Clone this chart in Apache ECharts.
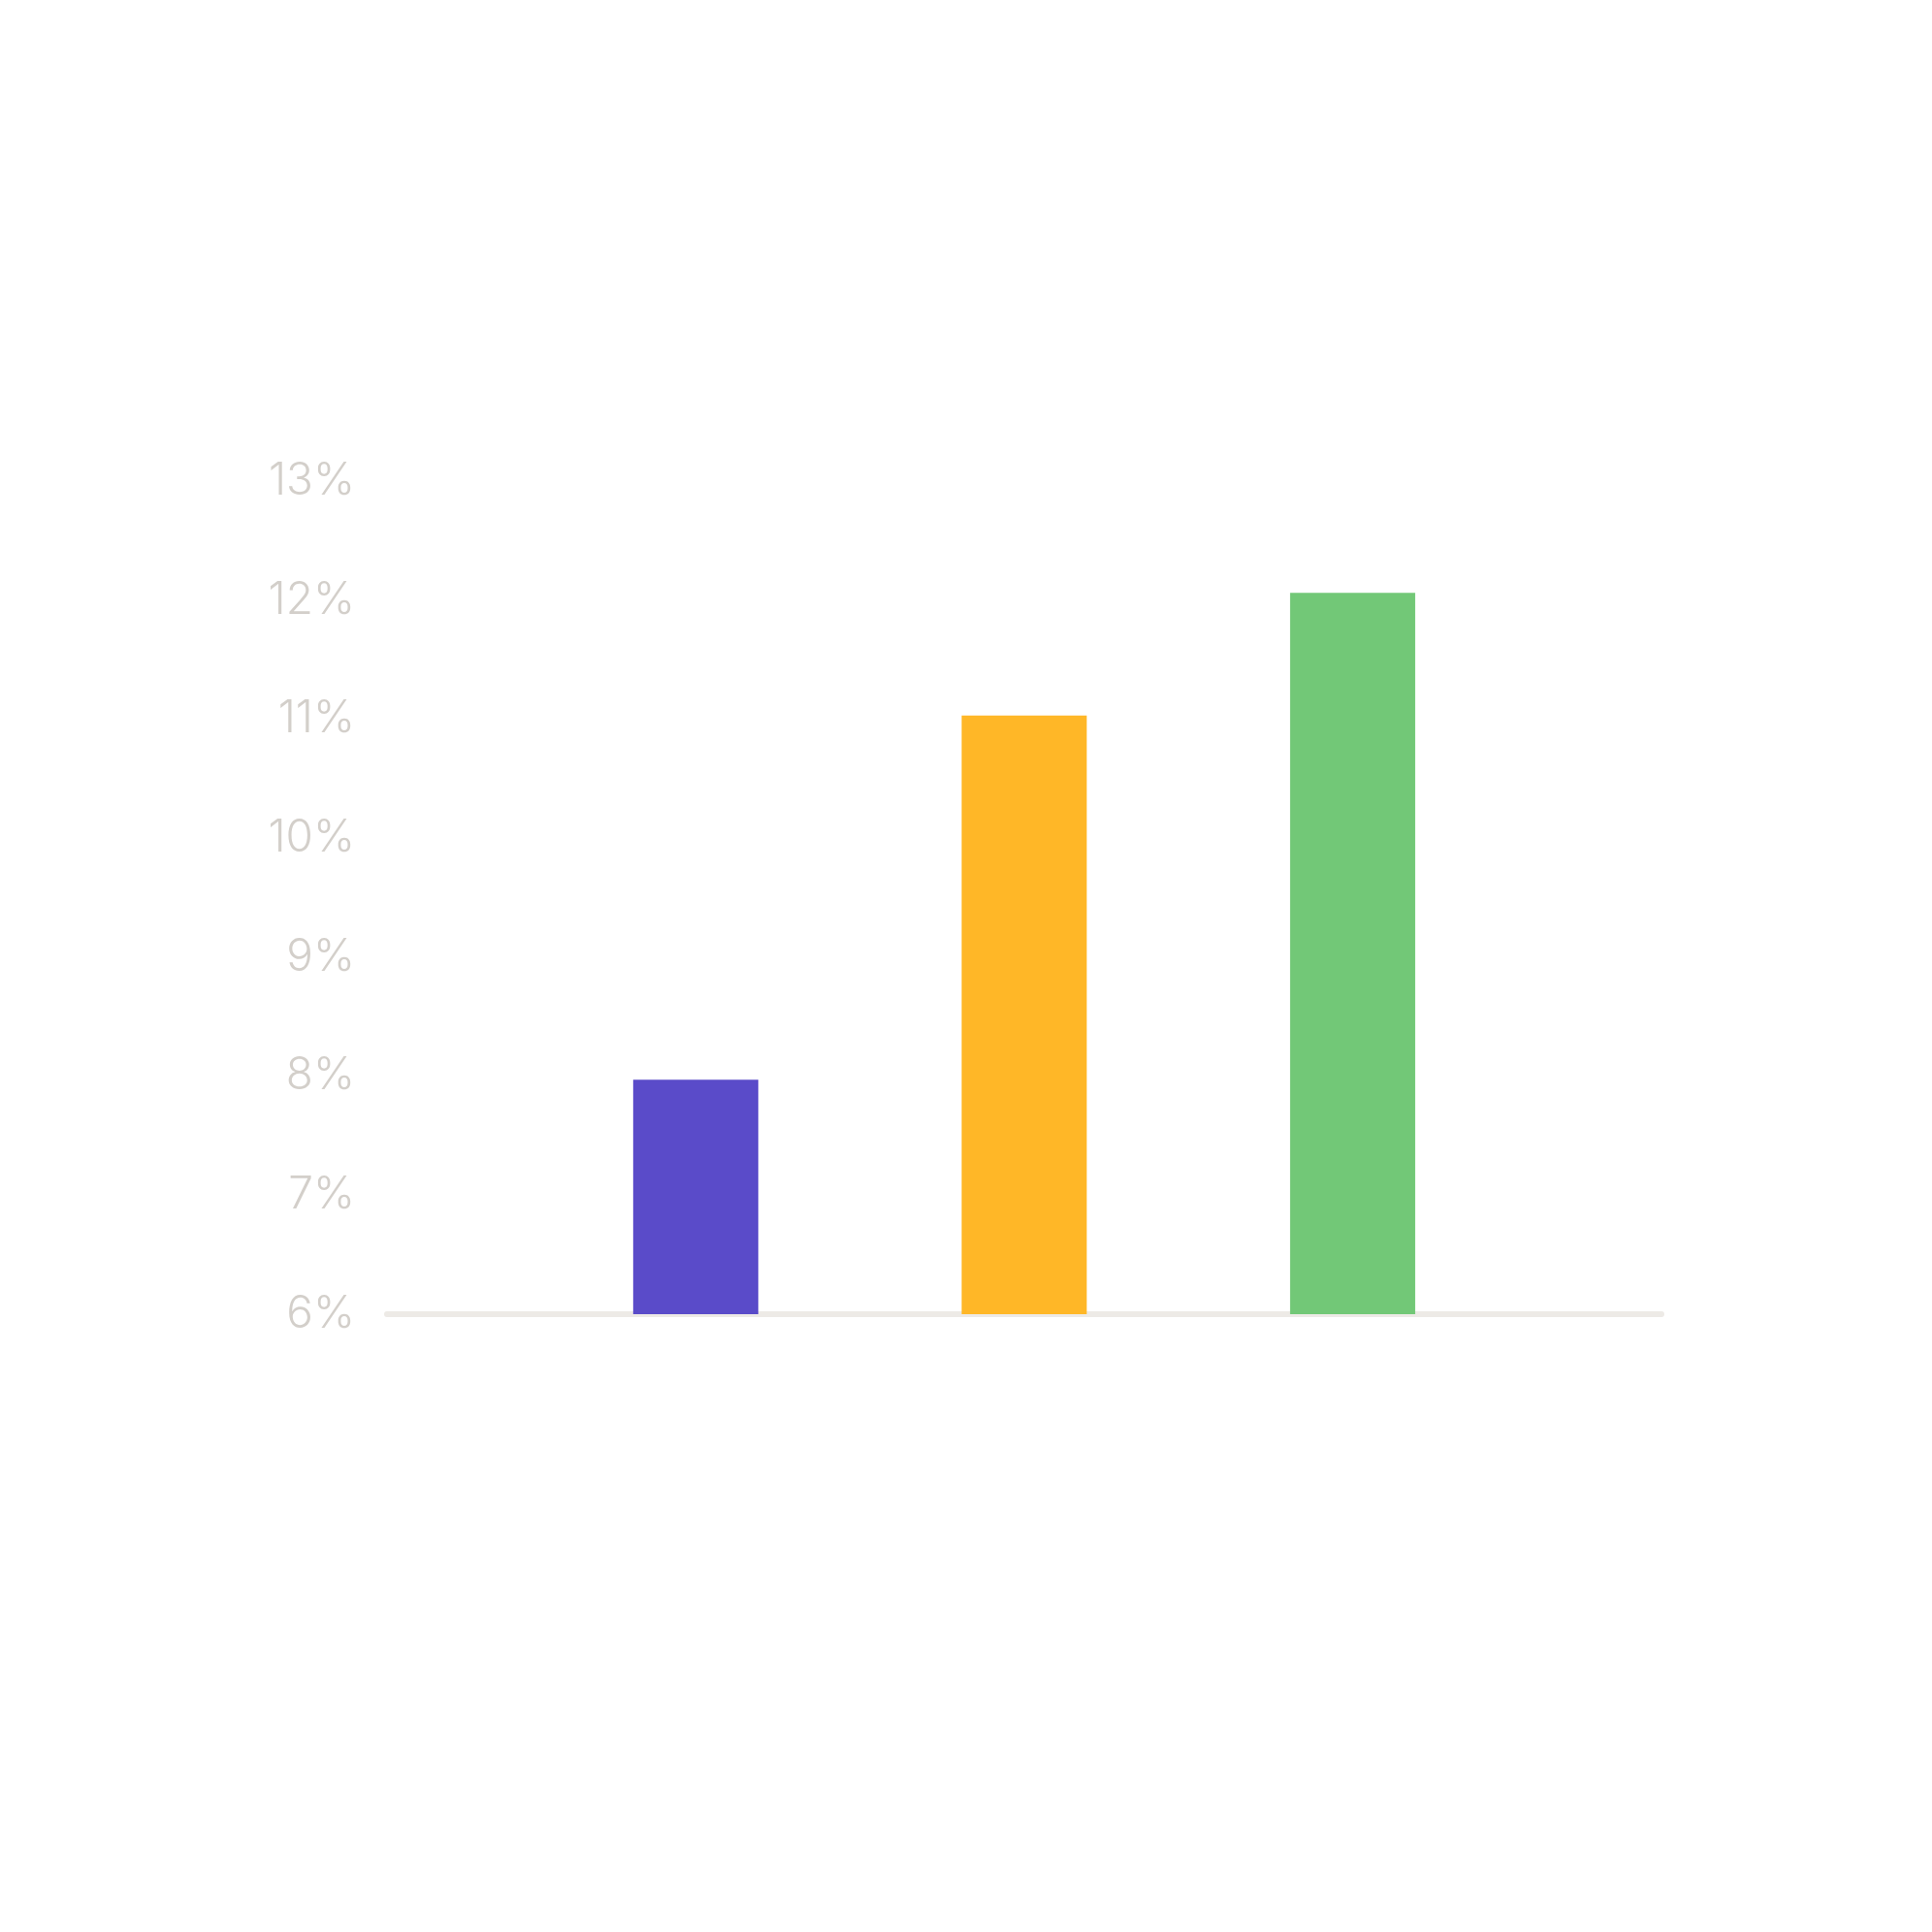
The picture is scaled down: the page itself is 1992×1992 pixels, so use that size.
<!DOCTYPE html>
<html>
<head>
<meta charset="utf-8">
<style>html,body{margin:0;padding:0;background:#ffffff;}#chart{width:1992px;height:1992px;}</style>
<script src="https://cdn.jsdelivr.net/npm/echarts@6/dist/echarts.min.js"></script>
</head>
<body>
<div id="chart"></div>
<script>
const positions = [1, 2, 3];
const values = [7.97, 11.03, 12.06];
const barColors = ['#5a4bc9', '#ffb727', '#72c877'];
const yTicks = [6, 7, 8, 9, 10, 11, 12, 13];

const chart = echarts.init(document.getElementById('chart'), null, {renderer: 'canvas'});
chart.setOption({
  backgroundColor: '#ffffff',
  animation: false,
  grid: {left: 399, right: 279, top: 496, bottom: 637, containLabel: false},
  xAxis: {
    type: 'value', min: 0.06, max: 3.94,
    axisLabel: {show: false}, axisTick: {show: false}, splitLine: {show: false},
    axisLine: {show: true, onZero: false, lineStyle: {color: '#edeae6', width: 6, cap: 'round'}}
  },
  yAxis: {
    type: 'value', min: yTicks[0], max: yTicks[yTicks.length - 1], interval: 1,
    axisLine: {show: false}, axisTick: {show: false}, splitLine: {show: false},
    axisLabel: {
      margin: 33, color: '#d3cfca', fontSize: 46, fontWeight: 300, fontFamily: 'Inter',
      verticalAlign: 'middle', padding: [8, 0, 0, 0],
      formatter: v => v + '%'
    }
  },
  series: [{
    type: 'bar', barWidth: 129,
    data: positions.map((p, i) => ({value: [p, values[i]], itemStyle: {color: barColors[i]}}))
  }]
});
</script>
</body>
</html>
